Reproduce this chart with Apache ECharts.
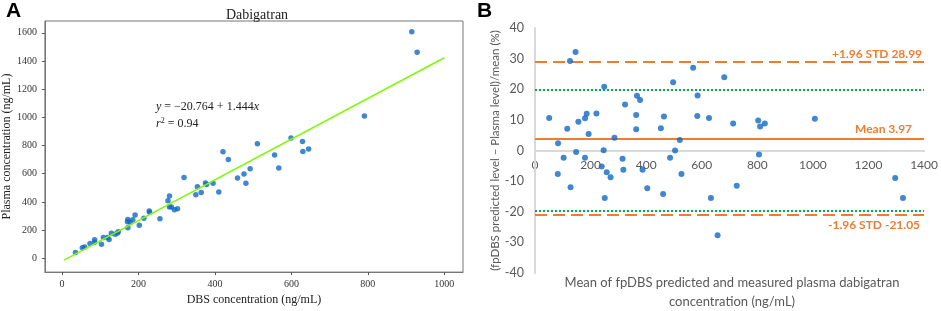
<!DOCTYPE html>
<html>
<head>
<meta charset="utf-8">
<script src="https://cdn.jsdelivr.net/npm/echarts@6/dist/echarts.min.js"></script>
<style>
  html, body { margin: 0; padding: 0; background: #fff; }
  #chart { width: 941px; height: 311px; }
</style>
</head>
<body>
<div id="chart"></div>
<script>
// Panel A: DBS concentration vs plasma concentration (ng/mL)
const dbsConc = [35, 53, 59, 73, 85, 85, 103, 108, 119, 123, 129, 139, 145, 147, 172, 171, 172, 178, 185, 191,
  202, 214, 228, 229, 256, 277, 281, 281, 286, 294, 302, 319, 350, 354, 364, 375, 378, 395,
  410, 421, 435, 459, 476, 481, 492, 511, 556, 567, 599, 629, 630, 645, 791, 915, 929];
const plasmaConc = [41, 75, 80, 105, 132, 114, 100, 148, 148, 134, 178, 171, 180, 189, 276, 259, 216, 255, 273, 307,
  235, 285, 335, 326, 280, 408, 442, 364, 364, 344, 351, 573, 451, 508, 467, 535, 524, 532,
  471, 756, 701, 569, 599, 533, 635, 812, 733, 640, 853, 829, 758, 776, 1010, 1607, 1463];
const fitIntercept = -20.764;
const fitSlope = 1.444;
const fitRange = [5, 1000];
const xTicksA = [0, 200, 400, 600, 800, 1000];
const yTicksA = [0, 200, 400, 600, 800, 1000, 1200, 1400, 1600];

// Panel B: Bland-Altman, mean (ng/mL) vs % difference
const baMean = [51, 83, 116, 126, 146, 148, 156, 180, 186, 193, 103, 180, 221, 247, 249, 286, 315, 324, 364, 364,
  367, 378, 453, 464, 486, 497, 504, 521, 569, 585, 584, 626, 681,
  82, 128, 240, 258, 272, 251, 318, 387, 404, 461, 527, 633, 657,
  713, 803, 810, 827, 1007, 806, 726, 1296, 1324];
const baDiff = [10.6, 2.4, 7.1, 29.2, 32.2, -0.5, 9.4, 10.5, 12.0, 5.4, -2.4, -2.4, 12.1, 0.1, 20.8, 4.2, -2.7, 15.0, 11.6, 6.9,
  17.9, 16.5, 7.3, 11.1, -2.4, 22.3, 0.0, 3.4, 27.0, 18.0, 11.3, 10.6, 23.9,
  -7.7, -12.0, -5.2, -7.1, -8.7, -15.5, -6.3, -6.3, -12.3, -14.2, -7.7, -15.5, -27.7,
  8.8, 9.8, 7.8, 8.8, 10.4, -1.3, -11.5, -9.0, -15.5];
const meanDiff = 3.97;
const upperLoA = 28.99;
const lowerLoA = -21.05;
const greenLimits = [19.7, -19.6];

const serif = 'Liberation Serif';
const sans = 'Lato';
const orange = '#ED7D31';
const green = '#00B050';
const blue = '#1068c4';
const axisGray = '#d9d9d9';
const plain = (v) => String(v);

const chart = echarts.init(document.getElementById('chart'));

// grid B geometry; x axis sits on y = 0
const gridB = { left: 535, top: 28, width: 393, height: 245 };
const zeroOffset = -gridB.height / 2;

const option = {
  animation: false,
  backgroundColor: '#fff',
  title: [
    {
      text: 'Dabigatran',
      left: 252,
      top: 3,
      textAlign: 'center',
      textStyle: { fontFamily: serif, fontWeight: 'normal', fontSize: 14, color: '#222' }
    },
    {
      text: 'Mean of fpDBS predicted and measured plasma dabigatran\nconcentration (ng/mL)',
      left: 732,
      top: 273,
      padding: 0,
      textAlign: 'center',
      textStyle: { fontFamily: sans, fontWeight: 'normal', fontSize: 13, lineHeight: 19, color: '#595959' }
    }
  ],
  graphic: [
    { type: 'text', left: 6, top: 1, style: { text: 'A', font: 'bold 21px Liberation Sans', fill: '#000' } },
    { type: 'text', left: 477, top: 1, style: { text: 'B', font: 'bold 21px Liberation Sans', fill: '#000' } },
    {
      type: 'text', left: 156, top: 101,
      style: {
        text: '{i|y} = \u221220.764 + 1.444{i|x}',
        font: '12px Liberation Serif', fill: '#222',
        rich: { i: { fontStyle: 'italic', fontFamily: serif, fontSize: 12, fill: '#222' } }
      }
    },
    {
      type: 'text', left: 156, top: 117,
      style: {
        text: '{i|r}{s|2} = 0.94',
        font: '12px Liberation Serif', fill: '#222',
        rich: {
          i: { fontStyle: 'italic', fontFamily: serif, fontSize: 12, fill: '#222' },
          s: { fontFamily: serif, fontSize: 8, verticalAlign: 'top', padding: [0, 0, 6, 0], fill: '#222' }
        }
      }
    }
  ],
  grid: [
    { left: 40, top: 21, width: 423, height: 261, show: true, borderColor: '#777', borderWidth: 1 },
    gridB
  ],
  xAxis: [
    {
      gridIndex: 0, type: 'value', min: -45, max: 1049,
      name: 'DBS concentration (ng/mL)', nameLocation: 'middle', nameGap: 19,
      nameTextStyle: { fontFamily: serif, fontSize: 12, color: '#222' },
      axisLine: { show: true, onZero: false, lineStyle: { color: '#777' } },
      axisTick: { show: true, inside: false, customValues: xTicksA, length: 3, lineStyle: { color: '#555' } },
      axisLabel: { customValues: xTicksA, formatter: plain, fontFamily: serif, fontSize: 10, color: '#333', margin: 7 },
      splitLine: { show: false }
    },
    {
      gridIndex: 1, type: 'value', min: 0, max: 1400, interval: 200,
      offset: zeroOffset,
      axisLine: { show: true, onZero: false, lineStyle: { color: axisGray, width: 2 } },
      axisTick: { show: false },
      axisLabel: { formatter: plain, fontFamily: sans, fontSize: 12, color: '#595959', margin: 9 },
      splitLine: { show: false }
    }
  ],
  yAxis: [
    {
      gridIndex: 0, type: 'value', min: -98, max: 1684,
      name: 'Plasma concentration (ng/mL)', nameLocation: 'middle', nameGap: 26,
      nameTextStyle: { fontFamily: serif, fontSize: 12, color: '#222' },
      axisLine: { show: true, onZero: false, lineStyle: { color: '#777' } },
      axisTick: { show: true, inside: false, customValues: yTicksA, length: 3, lineStyle: { color: '#555' } },
      axisLabel: { customValues: yTicksA, formatter: plain, fontFamily: serif, fontSize: 10, color: '#333', margin: 8 },
      splitLine: { show: false }
    },
    {
      gridIndex: 1, type: 'value', min: -40, max: 40, interval: 10,
      name: '(fpDBS predicted level \u2013 Plasma level)/mean (%)', nameLocation: 'middle', nameGap: 30,
      nameTextStyle: { fontFamily: sans, fontSize: 11.5, color: '#595959' },
      axisLine: { show: true, onZero: false, lineStyle: { color: axisGray, width: 2 } },
      axisTick: { show: false },
      axisLabel: { formatter: plain, fontFamily: sans, fontSize: 12.5, color: '#595959', margin: 11 },
      splitLine: { show: false }
    }
  ],
  series: [
    {
      type: 'scatter', xAxisIndex: 0, yAxisIndex: 0,
      data: dbsConc.map((x, i) => [x, plasmaConc[i]]),
      symbolSize: 5.5, itemStyle: { color: blue }
    },
    {
      type: 'line', xAxisIndex: 0, yAxisIndex: 0,
      data: fitRange.map((x) => [x, fitIntercept + fitSlope * x]),
      symbol: 'none', lineStyle: { color: '#7CFC00', width: 1.5 }
    },
    {
      type: 'scatter', xAxisIndex: 1, yAxisIndex: 1,
      data: baMean.map((x, i) => [x, baDiff[i]]),
      symbolSize: 6, itemStyle: { color: blue },
      z: 5,
      markLine: {
        silent: true, symbol: 'none', animation: false,
        data: [
          {
            xAxis: 0,
            lineStyle: { color: axisGray, width: 2, type: 'solid' },
            label: { show: false }
          },
          {
            yAxis: upperLoA,
            lineStyle: { color: orange, width: 2, type: [12, 6] },
            label: { show: true, position: 'insideEndTop', formatter: '+1.96 STD ' + upperLoA.toFixed(2),
              color: orange, fontFamily: sans, fontWeight: 'bold', fontSize: 12, distance: 2 }
          },
          {
            yAxis: lowerLoA,
            lineStyle: { color: orange, width: 2, type: [12, 6] },
            label: { show: true, position: 'insideEndBottom', formatter: '-1.96 STD ' + lowerLoA.toFixed(2),
              color: orange, fontFamily: sans, fontWeight: 'bold', fontSize: 12, distance: 4 }
          },
          {
            yAxis: meanDiff,
            lineStyle: { color: orange, width: 2, type: 'solid' },
            label: { show: true, position: 'insideEndTop', formatter: 'Mean ' + meanDiff.toFixed(2),
              color: orange, fontFamily: sans, fontWeight: 'bold', fontSize: 12, distance: 3, padding: [0, 9, 0, 0] }
          },
          {
            yAxis: greenLimits[0],
            lineStyle: { color: green, width: 2, type: [2, 2] },
            label: { show: false }
          },
          {
            yAxis: greenLimits[1],
            lineStyle: { color: green, width: 2, type: [2, 2] },
            label: { show: false }
          }
        ]
      }
    }
  ]
};

chart.setOption(option);
</script>
</body>
</html>
